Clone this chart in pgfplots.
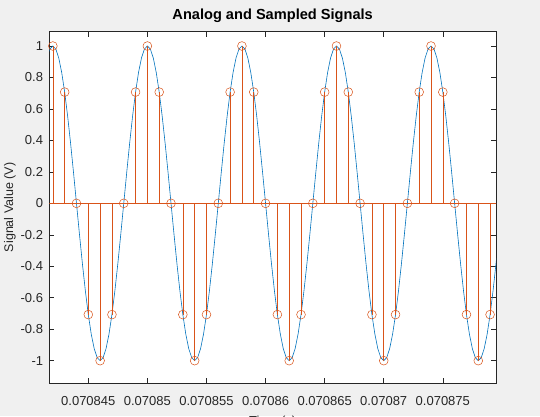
\documentclass[border=0pt]{standalone}
\usepackage{pgfplots}
\pgfplotsset{compat=1.18}
\usepackage{fontspec}
\setmainfont{Liberation Sans}
\definecolor{figbg}{RGB}{240,240,240}
\definecolor{axgray}{RGB}{38,38,38}
\definecolor{mblue}{rgb}{0,0.447,0.741}
\definecolor{morange}{rgb}{0.85,0.325,0.098}
\begin{document}
\begin{tikzpicture}[x=1pt,y=1pt]
\useasboundingbox (0,0) rectangle (540,416);
\clip (0,0) rectangle (540,416);
\fill[figbg] (0,0) rectangle (540,416);
\begin{axis}[
  at={(49.3pt,33pt)}, anchor=south west,
  width=446.7pt, height=351.3pt, scale only axis,
  axis background/.style={fill=white},
  xmin=1.7, xmax=39.5, ymin=-1.142, ymax=1.091,
  axis line style={axgray, line width=0.6pt},
  tick style={axgray, line width=0.6pt},
  tick align=inside, tick pos=both,
  xticklabel pos=lower, yticklabel pos=left,
  major tick length=5pt,
  xtick={5,10,15,20,25,30,35},
  xticklabels={0.070845,0.07085,0.070855,0.07086,0.070865,0.07087,0.070875},
  ytick={-1,-0.8,-0.6,-0.4,-0.2,0,0.2,0.4,0.6,0.8,1},
  yticklabels={-1,-0.8,-0.6,-0.4,-0.2,0,0.2,0.4,0.6,0.8,1},
  ticklabel style={font=\fontsize{13}{13}\selectfont, text=axgray},
  xticklabel style={anchor=base, yshift=-22pt},
  yticklabel style={anchor=east, xshift=-2.7pt},
  title={Analog and Sampled Signals},
  title style={font=\fontsize{14.6}{14.6}\selectfont\bfseries, at={(0.5,1)}, anchor=base, yshift=5.7pt},
  xlabel={Time (s)},
  xlabel style={font=\fontsize{13}{13}\selectfont, text=axgray, at={(0.5,0)}, anchor=base, yshift=-42.5pt},
  ylabel={Signal Value (V)},
  ylabel style={font=\fontsize{12.5}{12.5}\selectfont, text=axgray, at={(axis description cs:-0.088,0.5)}, anchor=center, rotate=0},
  clip=true,
]
% analog signal
\addplot[mblue, line width=0.6pt, no marks] coordinates {
(1.5,0.9239) (1.75,0.9808)
(2,1) (2.25,0.9808) (2.5,0.9239) (2.75,0.8315) (3,0.7071) (3.25,0.5556) (3.5,0.3827) (3.75,0.1951)
(4,0) (4.25,-0.1951) (4.5,-0.3827) (4.75,-0.5556) (5,-0.7071) (5.25,-0.8315) (5.5,-0.9239) (5.75,-0.9808)
(6,-1) (6.25,-0.9808) (6.5,-0.9239) (6.75,-0.8315) (7,-0.7071) (7.25,-0.5556) (7.5,-0.3827) (7.75,-0.1951)
(8,0) (8.25,0.1951) (8.5,0.3827) (8.75,0.5556) (9,0.7071) (9.25,0.8315) (9.5,0.9239) (9.75,0.9808)
(10,1) (10.25,0.9808) (10.5,0.9239) (10.75,0.8315) (11,0.7071) (11.25,0.5556) (11.5,0.3827) (11.75,0.1951)
(12,0) (12.25,-0.1951) (12.5,-0.3827) (12.75,-0.5556) (13,-0.7071) (13.25,-0.8315) (13.5,-0.9239) (13.75,-0.9808)
(14,-1) (14.25,-0.9808) (14.5,-0.9239) (14.75,-0.8315) (15,-0.7071) (15.25,-0.5556) (15.5,-0.3827) (15.75,-0.1951)
(16,0) (16.25,0.1951) (16.5,0.3827) (16.75,0.5556) (17,0.7071) (17.25,0.8315) (17.5,0.9239) (17.75,0.9808)
(18,1) (18.25,0.9808) (18.5,0.9239) (18.75,0.8315) (19,0.7071) (19.25,0.5556) (19.5,0.3827) (19.75,0.1951)
(20,0) (20.25,-0.1951) (20.5,-0.3827) (20.75,-0.5556) (21,-0.7071) (21.25,-0.8315) (21.5,-0.9239) (21.75,-0.9808)
(22,-1) (22.25,-0.9808) (22.5,-0.9239) (22.75,-0.8315) (23,-0.7071) (23.25,-0.5556) (23.5,-0.3827) (23.75,-0.1951)
(24,0) (24.25,0.1951) (24.5,0.3827) (24.75,0.5556) (25,0.7071) (25.25,0.8315) (25.5,0.9239) (25.75,0.9808)
(26,1) (26.25,0.9808) (26.5,0.9239) (26.75,0.8315) (27,0.7071) (27.25,0.5556) (27.5,0.3827) (27.75,0.1951)
(28,0) (28.25,-0.1951) (28.5,-0.3827) (28.75,-0.5556) (29,-0.7071) (29.25,-0.8315) (29.5,-0.9239) (29.75,-0.9808)
(30,-1) (30.25,-0.9808) (30.5,-0.9239) (30.75,-0.8315) (31,-0.7071) (31.25,-0.5556) (31.5,-0.3827) (31.75,-0.1951)
(32,0) (32.25,0.1951) (32.5,0.3827) (32.75,0.5556) (33,0.7071) (33.25,0.8315) (33.5,0.9239) (33.75,0.9808)
(34,1) (34.25,0.9808) (34.5,0.9239) (34.75,0.8315) (35,0.7071) (35.25,0.5556) (35.5,0.3827) (35.75,0.1951)
(36,0) (36.25,-0.1951) (36.5,-0.3827) (36.75,-0.5556) (37,-0.7071) (37.25,-0.8315) (37.5,-0.9239) (37.75,-0.9808)
(38,-1) (38.25,-0.9808) (38.5,-0.9239) (38.75,-0.8315) (39,-0.7071) (39.25,-0.5556) (39.5,-0.3827) (39.75,-0.1951)
};
% stem baseline
\addplot[morange, line width=0.6pt, no marks] coordinates {(1.5,0) (39.75,0)};
% sampled signal (stems)
\addplot[morange, line width=0.6pt, ycomb, mark=o, mark size=4.4pt, mark options={solid, line width=0.5pt}] coordinates {
(2,1) (3,0.7071) (4,0) (5,-0.7071) (6,-1) (7,-0.7071) (8,0) (9,0.7071)
(10,1) (11,0.7071) (12,0) (13,-0.7071) (14,-1) (15,-0.7071) (16,0) (17,0.7071)
(18,1) (19,0.7071) (20,0) (21,-0.7071) (22,-1) (23,-0.7071) (24,0) (25,0.7071)
(26,1) (27,0.7071) (28,0) (29,-0.7071) (30,-1) (31,-0.7071) (32,0) (33,0.7071)
(34,1) (35,0.7071) (36,0) (37,-0.7071) (38,-1) (39,-0.7071)
};
\end{axis}
\end{tikzpicture}
\end{document}
